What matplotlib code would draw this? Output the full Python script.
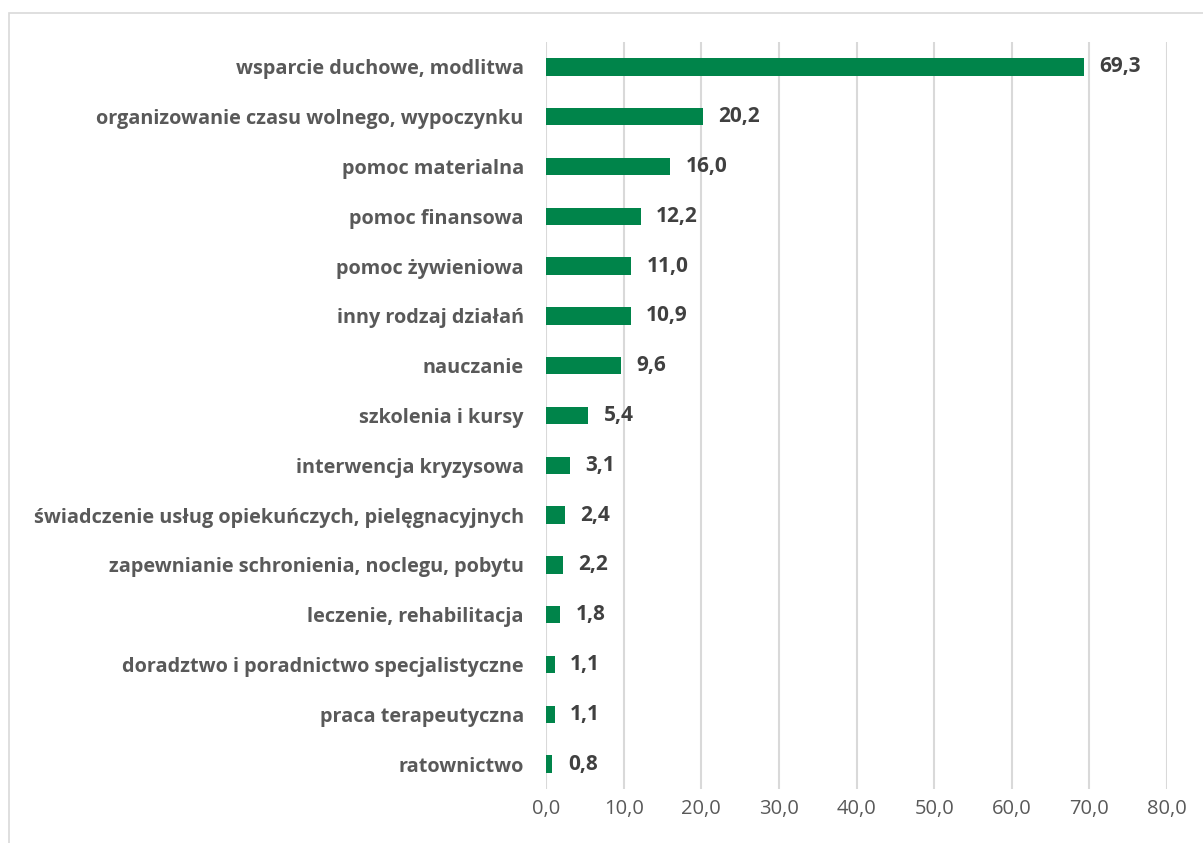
import matplotlib.pyplot as plt
from matplotlib.patches import Rectangle

categories = [
    "wsparcie duchowe, modlitwa",
    "organizowanie czasu wolnego, wypoczynku",
    "pomoc materialna",
    "pomoc finansowa",
    "pomoc żywieniowa",
    "inny rodzaj działań",
    "nauczanie",
    "szkolenia i kursy",
    "interwencja kryzysowa",
    "świadczenie usług opiekuńczych, pielęgnacyjnych",
    "zapewnianie schronienia, noclegu, pobytu",
    "leczenie, rehabilitacja",
    "doradztwo i poradnictwo specjalistyczne",
    "praca terapeutyczna",
    "ratownictwo",
]
values = [69.3, 20.2, 16.0, 12.2, 11.0, 10.9, 9.6, 5.4, 3.1, 2.4, 2.2, 1.8, 1.1, 1.1, 0.8]
xticks = [0, 10, 20, 30, 40, 50, 60, 70, 80]

plt.rcParams['font.family'] = ['Open Sans', 'DejaVu Sans']

fig = plt.figure(figsize=(12.03, 8.43), dpi=100)
ax = fig.add_axes([0.4539, 0.0641, 0.5162, 0.8861])

# outer frame like the spreadsheet chart area
fig.patches.append(Rectangle((9 / 1203, -0.05), 1.2, 1 - 13 / 843 + 0.05,
                             transform=fig.transFigure, fill=False,
                             edgecolor='#D9D9D9', linewidth=1.2))

pos = list(range(len(categories)))
ax.barh(pos, values, height=0.35, color='#00844A', zorder=3)

for p, v in zip(pos, values):
    ax.text(v + 2.0, p, f"{v:.1f}".replace('.', ','), va='center', ha='left',
            fontsize=15, fontweight='bold', color='#404040')

ax.set_ylim(len(categories) - 0.5, -0.5)
ax.set_yticks(pos)
ax.set_yticklabels(categories, fontsize=14.3, fontweight='bold', color='#595959')
ax.set_xlim(0, 80)
ax.set_xticks(xticks)
ax.set_xticklabels([f"{t:.1f}".replace('.', ',') for t in xticks], fontsize=14.5, color='#595959')
ax.tick_params(length=0, axis='y', pad=16)
ax.tick_params(length=0, axis='x', pad=7)
ax.grid(axis='x', color='#D9D9D9', linewidth=1.5, zorder=0)
for s in ax.spines.values():
    s.set_visible(False)

fig.savefig('out.png', dpi=100)
